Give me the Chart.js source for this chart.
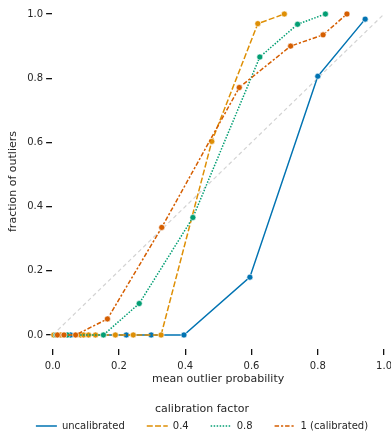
<!doctype html>
<html>
<head>
	<title>Calibration curve</title>
	<script src="https://cdn.jsdelivr.net/npm/chart.js@4/dist/chart.umd.min.js"></script>
	<style>
		html, body { margin: 0; padding: 0; overflow: hidden; background: #fff; }
		#container { position: relative; width: 397px; height: 435px; }
	</style>
</head>
<body>
	<div id="container">
		<canvas id="canvas"></canvas>
	</div>
	<script>
		// values
		var seriesNames = ['uncalibrated', '0.4', '0.8', '1 (calibrated)'];

		var uncalX = [0.054, 0.222, 0.297, 0.396, 0.595, 0.80, 0.943];
		var uncalY = [0, 0, 0, 0, 0.18, 0.806, 0.984];

		var f04X = [0.003, 0.024, 0.084, 0.093, 0.108, 0.129, 0.189, 0.243, 0.327, 0.48, 0.619, 0.699];
		var f04Y = [0, 0, 0, 0, 0, 0, 0, 0, 0, 0.603, 0.97, 1.0];

		var f08X = [0.01, 0.044, 0.153, 0.261, 0.423, 0.625, 0.739, 0.823];
		var f08Y = [0, 0, 0, 0.098, 0.366, 0.866, 0.968, 1.0];

		var f1X = [0.014, 0.034, 0.069, 0.165, 0.329, 0.563, 0.718, 0.816, 0.888];
		var f1Y = [0, 0, 0, 0.05, 0.335, 0.771, 0.90, 0.935, 1.0];

		var diagX = [0, 1];
		var diagY = [0, 1];

		var tickValues = [0, 0.2, 0.4, 0.6, 0.8, 1.0];

		var colors = ['#0173b2', '#de8f05', '#029e73', '#d55e00'];
		var dashes = [[], [6, 2.25], [1.5, 1.5], [4.5, 1.9, 2.2, 1.9]];

		function toPoints(xs, ys) {
			var pts = [];
			for (var i = 0; i < xs.length; i++) {
				pts.push({x: xs[i], y: ys[i]});
			}
			return pts;
		}

		var allX = [uncalX, f04X, f08X, f1X];
		var allY = [uncalY, f04Y, f08Y, f1Y];

		var datasets = [];
		for (var i = 0; i < 4; i++) {
			datasets.push({
				label: seriesNames[i],
				data: toPoints(allX[i], allY[i]),
				borderColor: colors[i],
				backgroundColor: colors[i],
				borderWidth: 1.5,
				borderDash: dashes[i],
				pointRadius: 3,
				pointBorderColor: '#ffffff',
				pointBorderWidth: 0.6,
				pointBackgroundColor: colors[i],
				order: 4 - i,
				clip: false,
				tension: 0
			});
		}
		datasets.push({
			label: 'diagonal',
			data: toPoints(diagX, diagY),
			borderColor: '#d3d3d3',
			borderWidth: 1.2,
			borderDash: [4, 3],
			pointRadius: 0,
			order: 10,
			clip: false
		});

		var font = "'DejaVu Sans', sans-serif";

		var ctx = document.getElementById('canvas').getContext('2d');
		window.myChart = new Chart(ctx, {
			type: 'line',
			data: { datasets: datasets },
			options: {
				responsive: true,
				maintainAspectRatio: false,
				animation: false,
				layout: { padding: { top: 14, left: 7, bottom: -6 } },
				plugins: {
					tooltip: { enabled: false },
					legend: {
						position: 'bottom',
						title: {
							display: true,
							text: 'calibration factor',
							color: '#262626',
							font: { family: font, size: 11 },
							padding: { top: 0, bottom: -17.6 }
						},
						labels: {
							generateLabels: function (chart) {
								return chart.data.datasets.slice(0, 4).map(function (ds, i) {
									return {
										text: ds.label,
										strokeStyle: ds.borderColor,
										fillStyle: ds.borderColor,
										lineWidth: ds.borderWidth,
										lineDash: ds.borderDash,
										pointStyle: 'line',
										fontColor: '#262626',
										hidden: false,
										datasetIndex: i
									};
								});
							},
							usePointStyle: true,
							pointStyle: 'line',
							pointStyleWidth: 21,
							boxHeight: 10,
							color: '#262626',
							font: { family: font, size: 10 },
							padding: 22
						}
					}
				},
				scales: {
					x: {
						type: 'linear',
						min: -0.002,
						max: 1.0,
						afterBuildTicks: function (axis) {
							axis.ticks = tickValues.map(function (v) { return {value: v}; });
						},
						ticks: {
							color: '#262626',
							font: { family: font, size: 10 },
							padding: 5,
							maxRotation: 0,
							callback: function (v) { return v.toFixed(1); }
						},
						grid: { drawOnChartArea: false, drawTicks: true, tickLength: 6, color: '#111', lineWidth: 1.3 },
						border: { display: false },
						title: {
							display: true,
							text: 'mean outlier probability',
							color: '#262626',
							font: { family: font, size: 11 },
							padding: { top: -4.6, bottom: 17.8 }
						}
					},
					y: {
						type: 'linear',
						min: -0.04375,
						max: 1.0,
						afterBuildTicks: function (axis) {
							axis.ticks = tickValues.map(function (v) { return {value: v}; });
						},
						ticks: {
							color: '#262626',
							font: { family: font, size: 10 },
							padding: 3,
							callback: function (v) { return v.toFixed(1); }
						},
						grid: { drawOnChartArea: false, drawTicks: true, tickLength: 6, color: '#111', lineWidth: 1.3 },
						border: { display: false },
						title: {
							display: true,
							text: 'fraction of outliers',
							color: '#262626',
							font: { family: font, size: 11 },
							padding: { top: 0, bottom: 4 }
						}
					}
				}
			}
		});
	</script>
</body>
</html>
